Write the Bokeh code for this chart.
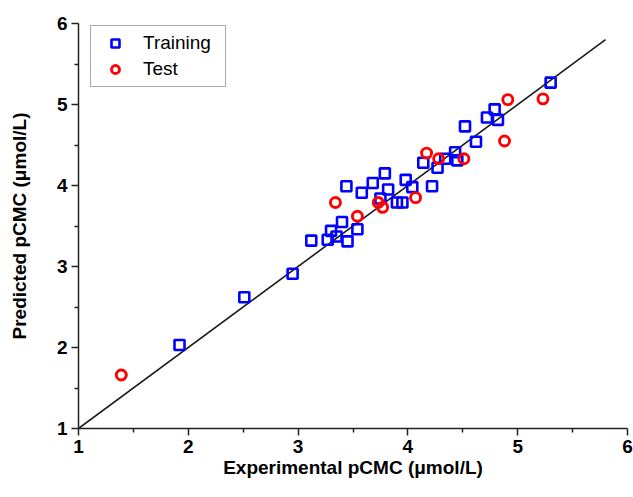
from bokeh.plotting import figure
from bokeh.models import FixedTicker, Legend, LegendItem, Range1d
from bokeh.embed import file_html
from bokeh.resources import INLINE

# Training set (experimental, predicted)
train_exp = [1.92, 2.51, 2.95, 3.12, 3.27, 3.30, 3.35, 3.40, 3.45, 3.54,
             3.44, 3.58, 3.68, 3.79, 3.82, 3.75, 3.90, 3.95, 3.98, 4.04,
             4.22, 4.14, 4.27, 4.34, 4.43, 4.45, 4.52, 4.62, 4.72, 4.79,
             4.82, 5.30]
train_pred = [2.03, 2.62, 2.91, 3.32, 3.33, 3.44, 3.37, 3.55, 3.31, 3.46,
              3.99, 3.91, 4.03, 4.15, 3.95, 3.84, 3.79, 3.79, 4.07, 3.98,
              3.99, 4.28, 4.22, 4.33, 4.41, 4.31, 4.73, 4.54, 4.84, 4.94,
              4.81, 5.27]

# Test set (experimental, predicted)
test_exp = [1.39, 3.34, 3.54, 3.73, 3.77, 4.07, 4.17, 4.28, 4.51, 4.88, 4.91, 5.23]
test_pred = [1.66, 3.79, 3.62, 3.79, 3.73, 3.85, 4.40, 4.33, 4.33, 4.55, 5.06, 5.07]

# y = x reference line
line_x = [1.0, 5.8]
line_y = [1.0, 5.8]

x_ticks = [1, 2, 3, 4, 5, 6]
y_ticks = [1, 2, 3, 4, 5, 6]
minor = [1.5, 2.5, 3.5, 4.5, 5.5]

p = figure(width=633, height=497, output_backend="svg", toolbar_location=None,
           x_range=Range1d(1, 6), y_range=Range1d(1, 6),
           min_border_left=78, min_border_right=6, min_border_top=23, min_border_bottom=69)
p.outline_line_color = None
p.background_fill_color = "white"
p.border_fill_color = "white"
p.xgrid.visible = False
p.ygrid.visible = False

p.line(line_x, line_y, line_color="#1a1a1a", line_width=1.6)

r_train = p.scatter(train_exp, train_pred, marker="square", size=10, fill_color=None,
                    line_color="#0000ff", line_width=2.6)
r_test = p.scatter(test_exp, test_pred, marker="circle", size=10, fill_color=None,
                   line_color="#ff0000", line_width=2.9)

for ax, ticks in ((p.xaxis[0], x_ticks), (p.yaxis[0], y_ticks)):
    ax.ticker = FixedTicker(ticks=ticks, minor_ticks=minor)
    ax.axis_line_color = "#222222"
    ax.axis_line_width = 1.5
    ax.major_tick_line_color = "#222222"
    ax.major_tick_line_width = 1.5
    ax.minor_tick_line_color = "#222222"
    ax.minor_tick_line_width = 1.5
    ax.major_tick_in = 0
    ax.major_tick_out = 7
    ax.minor_tick_in = 0
    ax.minor_tick_out = 4
    ax.major_label_text_font = "Liberation Sans"
    ax.major_label_text_font_style = "bold"
    ax.major_label_text_font_size = "19px"
    ax.major_label_text_color = "black"
    ax.axis_label_text_font = "Liberation Sans"
    ax.axis_label_text_font_style = "bold"
    ax.axis_label_text_font_size = "19px"
    ax.axis_label_text_color = "black"
    ax.major_label_standoff = 4

p.xaxis.axis_label = "Experimental pCMC (μmol/L)"
p.yaxis.axis_label = "Predicted pCMC (μmol/L)"
p.xaxis.axis_label_standoff = 1
p.yaxis.axis_label_standoff = 24

legend = Legend(items=[LegendItem(label="Training", renderers=[r_train]),
                       LegendItem(label="Test", renderers=[r_test])],
                location=(12, 341))
legend.label_text_font = "Liberation Sans"
legend.label_text_font_size = "19px"
legend.label_text_color = "black"
legend.border_line_color = "#555555"
legend.border_line_width = 1
legend.background_fill_alpha = 1
legend.glyph_width = 36
legend.glyph_height = 20
legend.spacing = 4
legend.padding = 6
legend.margin = 0
legend.label_standoff = 10
legend.label_height = 20
legend.label_width = 76
p.add_layout(legend, "center")

open("out.html", "w").write(file_html(p, INLINE))
